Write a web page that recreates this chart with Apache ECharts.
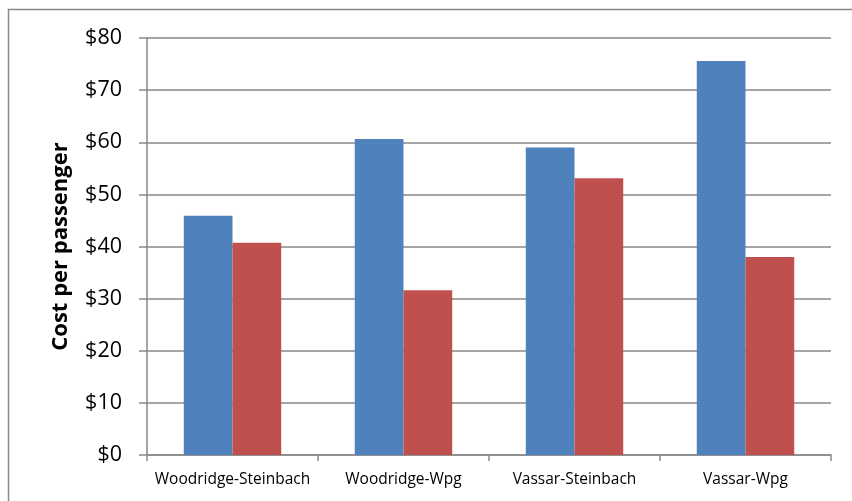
<!DOCTYPE html>
<html>
<head>
<meta charset="utf-8">
<script src="https://cdn.jsdelivr.net/npm/echarts@6/dist/echarts.min.js"></script>
<style>
  html, body { margin: 0; padding: 0; background: #fff; }
  #main { width: 852px; height: 501px; }
</style>
</head>
<body>
<div id="main"></div>
<script>
// routes and cost per passenger
var routes = ["Woodridge-Steinbach", "Woodridge-Wpg", "Vassar-Steinbach", "Vassar-Wpg"];
var seriesA = [45.9, 60.6, 59.0, 75.6];
var seriesB = [40.7, 31.6, 53.1, 38.0];
var yTicks = [0, 10, 20, 30, 40, 50, 60, 70, 80];

var gridColor = "#898989";
var font = "'Open Sans', sans-serif";

var myChart = echarts.init(document.getElementById("main"));

var option = {
  backgroundColor: "#fff",
  animation: false,
  graphic: [{
    type: "rect",
    shape: { x: 8.5, y: 9.5, width: 900, height: 600 },
    style: { fill: "none", stroke: gridColor, lineWidth: 1.5 },
    silent: true
  }],
  grid: {
    left: 147,
    right: 21,
    top: 38,
    bottom: 46
  },
  xAxis: {
    type: "category",
    data: routes,
    axisLine: { lineStyle: { color: gridColor, width: 1.5 } },
    axisTick: { show: true, length: 6, lineStyle: { color: gridColor, width: 1.5 } },
    axisLabel: { interval: 0, color: "#000", fontSize: 15.5, fontFamily: font, margin: 17 }
  },
  yAxis: {
    type: "value",
    min: yTicks[0],
    max: yTicks[yTicks.length - 1],
    interval: 10,
    name: "Cost per passenger",
    nameLocation: "middle",
    nameGap: 75,
    nameTextStyle: { color: "#000", fontSize: 22, fontWeight: "bold", fontFamily: font },
    axisLine: { show: true, lineStyle: { color: gridColor, width: 1.5 } },
    axisTick: { show: true, length: 8, lineStyle: { color: gridColor, width: 1.5 } },
    axisLabel: {
      color: "#000",
      fontSize: 21.5,
      fontFamily: font,
      margin: 25,
      formatter: function (v) { return "$" + v; }
    },
    splitLine: { lineStyle: { color: gridColor, width: 1.5 } }
  },
  series: [
    {
      name: "A",
      type: "bar",
      data: seriesA,
      barGap: "0%",
      barCategoryGap: "43%",
      itemStyle: { color: "#4F81BD" }
    },
    {
      name: "B",
      type: "bar",
      data: seriesB,
      barGap: "0%",
      barCategoryGap: "43%",
      itemStyle: { color: "#C0504D" }
    }
  ]
};

myChart.setOption(option);
</script>
</body>
</html>
